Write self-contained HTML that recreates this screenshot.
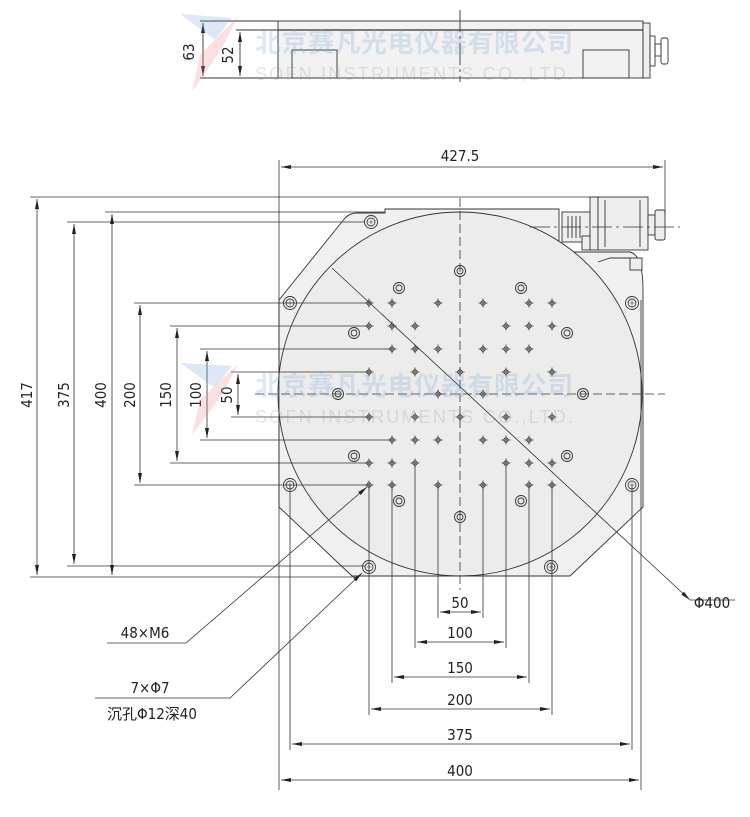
<!DOCTYPE html>
<html><head><meta charset="utf-8"><style>
html,body{margin:0;padding:0;background:#fff;}
svg{display:block;}
text{font-family:"Liberation Sans","Noto Sans CJK SC",sans-serif;}
.d{font-family:"DejaVu Sans Condensed","Liberation Sans","Noto Sans CJK SC",sans-serif;font-size:15px;fill:#222;}
</style></head><body>
<svg width="750" height="817" viewBox="0 0 750 817" xmlns="http://www.w3.org/2000/svg">
<defs>
<marker id="a" markerWidth="10" markerHeight="6" refX="10" refY="3" orient="auto-start-reverse" markerUnits="userSpaceOnUse"><path d="M0,1 L10,3 L0,5 z" fill="#222"/></marker>
<g id="m"><circle r="2.2" fill="none" stroke="#333" stroke-width="0.9"/><path d="M-4.5,0H4.5M0,-4.5V4.5" stroke="#333" stroke-width="0.8"/></g>
<g id="h"><circle r="6.5" fill="#f4f4f4" stroke="#333" stroke-width="0.9"/><circle r="4" fill="none" stroke="#333" stroke-width="0.9"/><path d="M-2.5,0H2.5M0,-2.5V2.5" stroke="#333" stroke-width="0.6"/></g>
<g id="c"><circle r="5.5" fill="none" stroke="#333" stroke-width="0.9"/><circle r="3" fill="none" stroke="#333" stroke-width="0.9"/></g>
</defs>

<!-- TOP VIEW -->
<g stroke="#333" stroke-width="0.9" fill="none">
<rect x="278" y="21" width="365" height="57" fill="#f2f2f2"/>
<line x1="278" y1="30" x2="643" y2="30" stroke-width="1.3"/>
<rect x="292" y="50" width="45" height="28"/>
<rect x="583" y="50" width="46" height="28"/>
<rect x="643" y="23" width="7" height="55" fill="#eee"/>
<rect x="650" y="36" width="5" height="30"/>
<rect x="655" y="44" width="6" height="12"/>
<rect x="661" y="38" width="7" height="26" rx="2"/>
<line x1="460" y1="10" x2="460" y2="82" stroke-dasharray="22,4,3,4"/>
<line x1="200" y1="21" x2="278" y2="21"/><line x1="200" y1="78" x2="278" y2="78"/>
<line x1="236" y1="30" x2="278" y2="30"/>
<line x1="203" y1="23" x2="203" y2="76" marker-start="url(#a)" marker-end="url(#a)"/>
<line x1="240" y1="32" x2="240" y2="76" marker-start="url(#a)" marker-end="url(#a)"/>
</g>
<text class="d" transform="translate(194,52) rotate(-90)" text-anchor="middle">63</text>
<text class="d" transform="translate(233,55) rotate(-90)" text-anchor="middle">52</text>

<!-- MAIN VIEW body -->
<g stroke="#333" stroke-width="0.9">
<path d="M385,209 H559 V252 H630 Q643,255 643,290 V507 L570,576 H352 L279,507 V300 L345,218 Q350,213 357,213 H385 Z" fill="#f0f0f0"/>
<circle cx="460" cy="394" r="182" fill="#ececec"/>
<rect x="562" y="212" width="28" height="30" fill="#eee"/>
<path d="M568,216V238M572,216V238M576,216V238M580,216V238" />
<rect x="582" y="236" width="10" height="14" fill="#eee"/>
<rect x="590" y="197" width="8" height="53" fill="#eee"/>
<rect x="598" y="197" width="50" height="53" fill="#eee"/>
<path d="M605,200V247M640,200V247"/>
<rect x="648" y="215" width="7" height="20" fill="#eee"/>
<rect x="655" y="210" width="10" height="30" rx="2" fill="#eee"/>
<rect x="630" y="258" width="12" height="12" fill="#eee"/>
<path d="M598,262 L610,258 L630,258" fill="none"/>
</g>
<g stroke="#333" stroke-width="0.8" fill="none">
<line x1="460" y1="198" x2="460" y2="590" stroke-dasharray="9,4"/>
<line x1="255" y1="394" x2="665" y2="394" stroke-dasharray="9,4"/>
<line x1="530" y1="227" x2="680" y2="227" stroke-dasharray="20,4,3,4"/>
<line x1="332" y1="268" x2="690" y2="600" marker-end="url(#a)"/>
<line x1="690" y1="600" x2="735" y2="600"/>
</g>
<text class="d" x="712" y="608" text-anchor="middle">Φ400</text>

<!-- holes grid -->
<g>
<use href="#m" x="369" y="303"/><use href="#m" x="392" y="303"/><use href="#m" x="438" y="303"/><use href="#m" x="483" y="303"/><use href="#m" x="529" y="303"/><use href="#m" x="552" y="303"/>
<use href="#m" x="369" y="326"/><use href="#m" x="392" y="326"/><use href="#m" x="415" y="326"/><use href="#m" x="506" y="326"/><use href="#m" x="529" y="326"/><use href="#m" x="552" y="326"/>
<use href="#m" x="392" y="349"/><use href="#m" x="415" y="349"/><use href="#m" x="438" y="349"/><use href="#m" x="483" y="349"/><use href="#m" x="506" y="349"/><use href="#m" x="529" y="349"/>
<use href="#m" x="369" y="372"/><use href="#m" x="415" y="372"/><use href="#m" x="460" y="372"/><use href="#m" x="506" y="372"/><use href="#m" x="552" y="372"/>
<use href="#m" x="438" y="394"/><use href="#m" x="483" y="394"/>
<use href="#m" x="369" y="417"/><use href="#m" x="415" y="417"/><use href="#m" x="460" y="417"/><use href="#m" x="506" y="417"/><use href="#m" x="552" y="417"/>
<use href="#m" x="392" y="440"/><use href="#m" x="415" y="440"/><use href="#m" x="438" y="440"/><use href="#m" x="483" y="440"/><use href="#m" x="506" y="440"/><use href="#m" x="529" y="440"/>
<use href="#m" x="369" y="463"/><use href="#m" x="392" y="463"/><use href="#m" x="415" y="463"/><use href="#m" x="506" y="463"/><use href="#m" x="529" y="463"/><use href="#m" x="552" y="463"/>
<use href="#m" x="369" y="485"/><use href="#m" x="392" y="485"/><use href="#m" x="438" y="485"/><use href="#m" x="483" y="485"/><use href="#m" x="529" y="485"/><use href="#m" x="552" y="485"/>
<use href="#h" x="371" y="222"/><use href="#h" x="290" y="303"/><use href="#h" x="290" y="485"/><use href="#h" x="369" y="567"/><use href="#h" x="551" y="567"/><use href="#h" x="632" y="485"/><use href="#h" x="632" y="303"/>
<use href="#c" x="460" y="271"/><use href="#c" x="460" y="517"/>
<use href="#c" x="399" y="288"/><use href="#c" x="521" y="288"/><use href="#c" x="354" y="333"/><use href="#c" x="567" y="333"/><use href="#c" x="338" y="394"/><use href="#c" x="583" y="394"/><use href="#c" x="354" y="456"/><use href="#c" x="567" y="456"/><use href="#c" x="399" y="501"/><use href="#c" x="521" y="501"/>
</g>

<!-- dimensions -->
<g stroke="#333" stroke-width="0.8" fill="none">
<line x1="279" y1="160" x2="279" y2="790"/>
<line x1="665" y1="160" x2="665" y2="215"/>
<line x1="281" y1="167" x2="663" y2="167" marker-start="url(#a)" marker-end="url(#a)"/>
<!-- left ext -->
<line x1="30" y1="197" x2="600" y2="197"/>
<line x1="105" y1="212" x2="385" y2="212"/>
<line x1="67" y1="222" x2="365" y2="222"/>
<line x1="30" y1="577" x2="355" y2="577"/>
<line x1="67" y1="566" x2="365" y2="566"/>
<line x1="134" y1="303" x2="369" y2="303"/>
<line x1="134" y1="485" x2="369" y2="485"/>
<line x1="170" y1="326" x2="369" y2="326"/>
<line x1="170" y1="463" x2="369" y2="463"/>
<line x1="200" y1="349" x2="392" y2="349"/>
<line x1="200" y1="440" x2="392" y2="440"/>
<line x1="231" y1="372" x2="369" y2="372"/>
<line x1="231" y1="417" x2="369" y2="417"/>
<line x1="37" y1="199" x2="37" y2="575" marker-start="url(#a)" marker-end="url(#a)"/>
<line x1="74" y1="224" x2="74" y2="564" marker-start="url(#a)" marker-end="url(#a)"/>
<line x1="112" y1="214" x2="112" y2="575" marker-start="url(#a)" marker-end="url(#a)"/>
<line x1="140" y1="305" x2="140" y2="483" marker-start="url(#a)" marker-end="url(#a)"/>
<line x1="177" y1="328" x2="177" y2="461" marker-start="url(#a)" marker-end="url(#a)"/>
<line x1="207" y1="351" x2="207" y2="438" marker-start="url(#a)" marker-end="url(#a)"/>
<line x1="238" y1="374" x2="238" y2="415" marker-start="url(#a)" marker-end="url(#a)"/>
<!-- bottom ext -->
<line x1="290" y1="485" x2="290" y2="750"/><line x1="632" y1="485" x2="632" y2="750"/>
<line x1="641" y1="300" x2="641" y2="790"/>
<line x1="369" y1="485" x2="369" y2="715"/><line x1="552" y1="485" x2="552" y2="715"/>
<line x1="392" y1="485" x2="392" y2="683"/><line x1="529" y1="485" x2="529" y2="683"/>
<line x1="415" y1="463" x2="415" y2="648"/><line x1="506" y1="463" x2="506" y2="648"/>
<line x1="438" y1="485" x2="438" y2="618"/><line x1="483" y1="485" x2="483" y2="618"/>
<line x1="440" y1="612" x2="481" y2="612" marker-start="url(#a)" marker-end="url(#a)"/>
<line x1="417" y1="642" x2="504" y2="642" marker-start="url(#a)" marker-end="url(#a)"/>
<line x1="394" y1="677" x2="527" y2="677" marker-start="url(#a)" marker-end="url(#a)"/>
<line x1="371" y1="709" x2="550" y2="709" marker-start="url(#a)" marker-end="url(#a)"/>
<line x1="292" y1="744" x2="630" y2="744" marker-start="url(#a)" marker-end="url(#a)"/>
<line x1="281" y1="780" x2="639" y2="780" marker-start="url(#a)" marker-end="url(#a)"/>
<!-- leaders -->
<polyline points="107,643 186,643 367,487" marker-end="url(#a)"/>
<polyline points="95,698 230,698 362,573" marker-end="url(#a)"/>
</g>
<text class="d" x="460" y="161" text-anchor="middle">427.5</text>
<text class="d" transform="translate(32,395) rotate(-90)" text-anchor="middle">417</text>
<text class="d" transform="translate(69,395) rotate(-90)" text-anchor="middle">375</text>
<text class="d" transform="translate(106,395) rotate(-90)" text-anchor="middle">400</text>
<text class="d" transform="translate(135,395) rotate(-90)" text-anchor="middle">200</text>
<text class="d" transform="translate(171,395) rotate(-90)" text-anchor="middle">150</text>
<text class="d" transform="translate(201,395) rotate(-90)" text-anchor="middle">100</text>
<text class="d" transform="translate(232,395) rotate(-90)" text-anchor="middle">50</text>
<text class="d" x="460" y="608" text-anchor="middle">50</text>
<text class="d" x="460" y="638" text-anchor="middle">100</text>
<text class="d" x="460" y="673" text-anchor="middle">150</text>
<text class="d" x="460" y="705" text-anchor="middle">200</text>
<text class="d" x="460" y="740" text-anchor="middle">375</text>
<text class="d" x="460" y="776" text-anchor="middle">400</text>
<text class="d" x="145" y="638" text-anchor="middle">48×M6</text>
<text class="d" x="150" y="693" text-anchor="middle">7×Φ7</text>
<text class="d" x="152" y="719" text-anchor="middle">沉孔Φ12深40</text>

<!-- watermarks -->
<g opacity="0.25">
<path d="M180,14 L232,18 L215,40 Z" fill="#7fa6d8"/><path d="M238,16 L200,55 L192,92 L222,48 Z" fill="#e88"/>
<text x="255" y="52" font-size="26" font-weight="bold" fill="#7fa6d8" textLength="318">北京赛凡光电仪器有限公司</text>
<text x="255" y="80" font-size="18" fill="#999" textLength="318">SOFN INSTRUMENTS CO.,LTD.</text>
<path d="M180,363 L232,366 L215,388 Z" fill="#7fa6d8"/><path d="M238,364 L200,400 L192,435 L222,395 Z" fill="#e88"/>
<text x="255" y="395" font-size="26" font-weight="bold" fill="#7fa6d8" textLength="318">北京赛凡光电仪器有限公司</text>
<text x="255" y="423" font-size="18" fill="#999" textLength="318">SOFN INSTRUMENTS CO.,LTD.</text>
</g>
</svg>
</body></html>
